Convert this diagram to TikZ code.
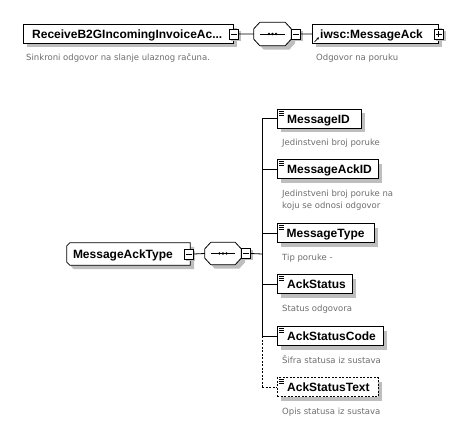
\documentclass[tikz,border=0pt]{standalone}
\usepackage{fontspec}
\setmainfont{Liberation Sans}
\newfontfamily\descfont{DejaVu Sans}
\usetikzlibrary{shadows,arrows.meta}
\definecolor{shadowgray}{RGB}{190,190,190}
\definecolor{descgray}{RGB}{110,110,110}
\tikzset{
  shadowed/.style={general shadow={fill=shadowgray,draw=none,shadow xshift=4pt,shadow yshift=-4pt}},
  elembox/.style={draw, fill=white, line width=0.8pt, inner sep=0pt, anchor=north west, shadowed},
  optbox/.style={elembox, dash pattern=on 2pt off 1.5pt},
  ghost/.style={draw=none, inner sep=0pt},
  namelbl/.style={font=\fontsize{12}{14}\selectfont\bfseries, inner sep=0pt, anchor=base west},
  desclbl/.style={font=\descfont\fontsize{8.5}{12}\selectfont, text=descgray, inner sep=0pt, anchor=base west, align=left},
  togglebox/.style={draw, fill=white, line width=0.6pt, minimum width=9.5pt, minimum height=10pt, inner sep=0pt,
    general shadow={fill=shadowgray,draw=none,shadow xshift=2pt,shadow yshift=-2pt}},
  conn/.style={line width=0.8pt},
  outline/.style={draw, fill=white, line width=0.8pt},
}
\newcommand{\minusmark}[1]{\draw[line width=0.7pt] ([xshift=2pt]#1.west) -- ([xshift=-2pt]#1.east);}
\newcommand{\plusmark}[1]{\draw[line width=0.7pt] ([xshift=2pt]#1.west) -- ([xshift=-2pt]#1.east);
  \draw[line width=0.7pt] ([yshift=2pt]#1.south) -- ([yshift=-2pt]#1.north);}
\newcommand{\elemicon}[1]{\foreach \k in {2,4,6}{\draw[line width=0.6pt] ([shift={(2pt,-\k pt)}]#1.north west) -- ++(5pt,0);}}
\newcommand{\seqmark}[1]{\draw[line width=0.9pt] ([xshift=6pt]#1.west) -- ([xshift=-6pt]#1.east);
  \foreach \d in {-3.6,0,3.6}{\fill ([xshift=\d pt]#1.center) circle (1.35pt);}}
% octagon outline around a ghost node: #1 node, #2 offset
\newcommand{\octpath}[2]{([shift={#2},xshift=6pt]#1.north west) -- ([shift={#2},xshift=-6pt]#1.north east)
  -- ([shift={#2},yshift=-6.5pt]#1.north east) -- ([shift={#2},yshift=6.5pt]#1.south east)
  -- ([shift={#2},xshift=-6pt]#1.south east) -- ([shift={#2},xshift=6pt]#1.south west)
  -- ([shift={#2},yshift=6.5pt]#1.south west) -- ([shift={#2},yshift=-6.5pt]#1.north west) -- cycle}
\newcommand{\typepath}[2]{([shift={#2},xshift=3pt]#1.north west) -- ([shift={#2}]#1.north east)
  -- ([shift={#2}]#1.south east) -- ([shift={#2},xshift=3pt]#1.south west)
  -- ([shift={#2},yshift=3pt]#1.south west) -- ([shift={#2},yshift=-3pt]#1.north west) -- cycle}
\begin{document}
\begin{tikzpicture}[x=1pt,y=-1pt]
\useasboundingbox[fill=white] (0,0) rectangle (475,425);

% ---------- top row ----------
\node[elembox, minimum width=210pt, minimum height=19pt] (recv) at (23,24) {};
\node[namelbl] (recvt) at ([shift={(9pt,-4.3pt)}]recv.west) {ReceiveB2GIncomingInvoiceAc...};
\node[togglebox] (recvsq) at (recv.east) {};
\minusmark{recvsq}
\node[desclbl] (recvd) at (26,60.5) {Sinkroni odgovor na slanje ulaznog računa.};

\node[ghost, minimum width=37pt, minimum height=23pt] (seqa) at (272.5,34) {};
\fill[shadowgray] \octpath{seqa}{(4pt,-4pt)};
\path[outline] \octpath{seqa}{(0pt,0pt)};
\seqmark{seqa}
\node[togglebox, anchor=west] (seqasq) at ([xshift=-0.5pt]seqa.east) {};
\minusmark{seqasq}

\node[elembox, minimum width=126pt, minimum height=19pt] (ack) at (312,24) {};
\node[namelbl] (ackt) at ([shift={(8pt,-4.3pt)}]ack.west) {iwsc:MessageAck};
\draw[line width=0.7pt, -{Stealth[length=2.6pt,width=2.6pt]}] ([shift={(2.5pt,2pt)}]ack.south west) -- ++(4.5pt,4.5pt);
\node[togglebox] (acksq) at (ack.east) {};
\plusmark{acksq}
\node[desclbl] (ackd) at (316,60.5) {Odgovor na poruku};

\draw[conn] (recvsq.east) -- (seqa.west);
\draw[conn] (seqasq.east) -- (ack.west);

% ---------- type row ----------
\node[ghost, minimum width=123pt, minimum height=22pt] (mtype) at (128.5,254) {};
\fill[shadowgray] \typepath{mtype}{(4pt,-4pt)};
\path[outline] \typepath{mtype}{(0pt,0pt)};
\node[namelbl] (mtypet) at ([shift={(6pt,-4.3pt)}]mtype.west) {MessageAckType};
\node[togglebox] (mtypesq) at ([xshift=-1.5pt]mtype.east) {};
\minusmark{mtypesq}

\node[ghost, minimum width=36pt, minimum height=22pt] (seqb) at (223,253.5) {};
\fill[shadowgray] \octpath{seqb}{(4pt,-4pt)};
\path[outline] \octpath{seqb}{(0pt,0pt)};
\seqmark{seqb}
\node[togglebox, anchor=west] (seqbsq) at ([xshift=-0.5pt]seqb.east) {};
\minusmark{seqbsq}

\coordinate (trunk) at (262,254);
\draw[conn] (mtypesq.east) -- (seqb.west);
\draw[conn] (seqbsq.east) -- (trunk);

% ---------- children ----------
\node[elembox, minimum width=84pt, minimum height=19pt] (c1) at (277,109) {};
\node[namelbl] (c1t) at ([shift={(10pt,-4.3pt)}]c1.west) {MessageID};
\node[desclbl] (c1d) at ([shift={(5pt,-17pt)}]c1.south west) {Jedinstveni broj poruke};

\node[elembox, minimum width=101pt, minimum height=19pt] (c2) at (277,159.5) {};
\node[namelbl] (c2t) at ([shift={(10pt,-4.3pt)}]c2.west) {MessageAckID};
\node[desclbl] (c2d) at ([shift={(5pt,-29pt)}]c2.south west) {Jedinstveni broj poruke na\\koju se odnosi odgovor};

\node[elembox, minimum width=97pt, minimum height=19pt] (c3) at (277,223.5) {};
\node[namelbl] (c3t) at ([shift={(9.5pt,-4.3pt)}]c3.west) {MessageType};
\node[desclbl] (c3d) at ([shift={(5pt,-17pt)}]c3.south west) {Tip poruke -};

\node[elembox, minimum width=75pt, minimum height=19pt] (c4) at (277,274.5) {};
\node[namelbl] (c4t) at ([shift={(10pt,-4.3pt)}]c4.west) {AckStatus};
\node[desclbl] (c4d) at ([shift={(5pt,-17pt)}]c4.south west) {Status odgovora};

\node[elembox, minimum width=106pt, minimum height=19pt] (c5) at (277,326.5) {};
\node[namelbl] (c5t) at ([shift={(10pt,-4.3pt)}]c5.west) {AckStatusCode};
\node[desclbl] (c5d) at ([shift={(5pt,-17pt)}]c5.south west) {Šifra statusa iz sustava};

\node[optbox, minimum width=101pt, minimum height=19pt] (c6) at (277,377.5) {};
\node[namelbl] (c6t) at ([shift={(10pt,-4.3pt)}]c6.west) {AckStatusText};
\node[desclbl] (c6d) at ([shift={(5pt,-17pt)}]c6.south west) {Opis statusa iz sustava};

\foreach \c in {c1,c2,c3,c4,c5,c6}{\elemicon{\c}}

\draw[conn] (trunk |- c1.west) -- (trunk |- c5.west);
\draw[conn, dash pattern=on 2pt off 1.5pt] (trunk |- c5.west) -- (trunk |- c6.west);
\foreach \c in {c1,c2,c3,c4,c5}{\draw[conn] (trunk |- \c.west) -- (\c.west);}
\draw[conn, dash pattern=on 2pt off 1.5pt] (trunk |- c6.west) -- (c6.west);
\end{tikzpicture}
\end{document}
